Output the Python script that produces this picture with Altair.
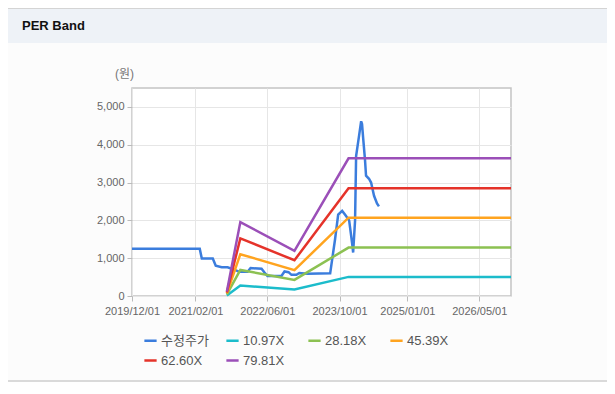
import altair as alt
import pandas as pd

# ---- data ----
price_dates = [
    "2019-12-01", "2021-03-02", "2021-03-16", "2021-05-29", "2021-06-18", "2021-07-28",
    "2021-09-06", "2021-10-23", "2021-11-26", "2022-01-19", "2022-02-08", "2022-04-23",
    "2022-05-13", "2022-06-02", "2022-09-04", "2022-09-25", "2022-10-22", "2022-11-11",
    "2022-12-14", "2023-01-03", "2023-02-26", "2023-07-30", "2023-09-01", "2023-09-22",
    "2023-10-19", "2023-11-08", "2023-12-05", "2023-12-25", "2024-01-01", "2024-01-14",
    "2024-01-21", "2024-02-10", "2024-02-24", "2024-03-01", "2024-03-08", "2024-03-21",
    "2024-03-28", "2024-04-17", "2024-05-01", "2024-05-21", "2024-06-10", "2024-06-23",
]
price_values = [
    1250, 1250, 990, 990, 800, 760,
    760, 690, 640, 640, 740, 720,
    620, 530, 530, 650, 630, 560,
    560, 610, 590, 600, 1500, 2150,
    2250, 2150, 2000, 1400, 1150, 2000,
    3700, 4240, 4620, 4550, 4200, 3600,
    3180, 3100, 3000, 2650, 2450, 2370,
]

band_dates = ["2021-09-01", "2021-12-01", "2022-12-01", "2023-12-01",
              "2024-12-01", "2025-12-01", "2026-12-01"]
band_1097 = [16, 275, 175, 505, 505, 505, 505]
band_2818 = [42, 690, 425, 1280, 1280, 1280, 1280]
band_4539 = [68, 1105, 685, 2070, 2070, 2070, 2070]
band_6260 = [94, 1525, 945, 2850, 2850, 2850, 2850]
band_7981 = [120, 1955, 1195, 3640, 3640, 3640, 3640]

series_names = ["수정주가", "10.97X", "28.18X", "45.39X", "62.60X", "79.81X"]
series_colors = ["#3b7ddd", "#1cbccb", "#8cc152", "#ffa41f", "#e5332a", "#9b4fb8"]

y_ticks = [0, 1000, 2000, 3000, 4000, 5000]

# ---- build long table ----
rows = []
for d, v in zip(price_dates, price_values):
    rows.append({"date": d, "value": v, "series": series_names[0], "order": 0})
for i, vals in enumerate([band_1097, band_2818, band_4539, band_6260, band_7981], start=1):
    for d, v in zip(band_dates, vals):
        rows.append({"date": d, "value": v, "series": series_names[i], "order": i})
df = pd.DataFrame(rows)

W, H = 379, 208
PAD_L, PAD_T, PAD_R, PAD_B = 124, 80, 96, 86
FONT = "Arial, Liberation Sans, Noto Sans CJK KR, sans-serif"

def dt(y, m, d):
    return alt.DateTime(year=y, month=m, date=d, utc=True)

x_ticks = [dt(2019, 12, 1), dt(2021, 2, 1), dt(2022, 6, 1),
           dt(2023, 10, 1), dt(2025, 1, 1), dt(2026, 5, 1)]

lines = alt.Chart(df).mark_line(strokeWidth=2.5, interpolate="linear").encode(
    x=alt.X("date:T",
            scale=alt.Scale(type="utc", domain=[dt(2019, 12, 1), dt(2026, 12, 1)]),
            axis=alt.Axis(values=x_ticks, format="%Y/%m/%d", title=None,
                          labelFont=FONT, labelFontSize=11, labelColor="#666",
                          tickColor="#bbb", tickSize=5, labelPadding=4,
                          labelFlush=False, domain=False, gridColor="#e6e6e6",
                          labelOverlap=False)),
    y=alt.Y("value:Q",
            scale=alt.Scale(domain=[0, 5500], nice=False),
            axis=alt.Axis(values=y_ticks, format=",.0f", title="(원)",
                          titleAngle=0, titleX=-8, titleY=-15, titleAlign="center",
                          titleBaseline="middle", titleFont=FONT, titleFontSize=12,
                          titleFontWeight="normal", titleColor="#777",
                          labelFont=FONT, labelFontSize=11, labelColor="#666",
                          tickColor="#bbb", tickSize=5, labelPadding=3,
                          labelFlush=False, domain=False, gridColor="#e6e6e6")),
    color=alt.Color("series:N",
                    scale=alt.Scale(domain=series_names, range=series_colors),
                    sort=series_names,
                    legend=alt.Legend(title=None, orient="none", legendX=11, legendY=245,
                                      direction="horizontal", columns=4, gridAlign="all",
                                      columnPadding=12, rowPadding=5, symbolType="stroke",
                                      symbolSize=150, symbolStrokeWidth=2.5,
                                      labelFont=FONT, labelFontSize=13,
                                      labelColor="#555", labelOffset=3)),
    order=alt.Order("order:Q"),
    detail="series:N",
)

deco = pd.DataFrame({"k": [0]})

header_bg = alt.Chart(deco).mark_rect(color="#eef2f7").encode(
    x=alt.value(-PAD_L), x2=alt.value(W + PAD_R),
    y=alt.value(-PAD_T + 1), y2=alt.value(-45),
)
top_line = alt.Chart(deco).mark_rule(color="#d4d4d4", strokeWidth=1).encode(
    x=alt.value(-PAD_L), x2=alt.value(W + PAD_R), y=alt.value(-PAD_T + 0.5),
)
bottom_line = alt.Chart(deco).mark_rule(color="#cfcfcf", strokeWidth=1.5).encode(
    x=alt.value(-PAD_L), x2=alt.value(W + PAD_R), y=alt.value(293),
)
header_text = alt.Chart(deco).mark_text(
    text="PER Band", align="left", baseline="middle", fontSize=13,
    fontWeight="bold", color="#111", font=FONT,
).encode(x=alt.value(-110), y=alt.value(-62))

chart = alt.layer(header_bg, top_line, bottom_line, header_text, lines).properties(
    width=W, height=H,
    padding={"left": PAD_L, "top": PAD_T, "right": PAD_R, "bottom": PAD_B},
    autosize=alt.AutoSizeParams(type="none"),
    background="#fcfcfc",
).configure_view(stroke="#c4c4c4", strokeWidth=1.5, fill="white")

chart.save("out.html", embed_options={"renderer": "svg", "actions": False})
